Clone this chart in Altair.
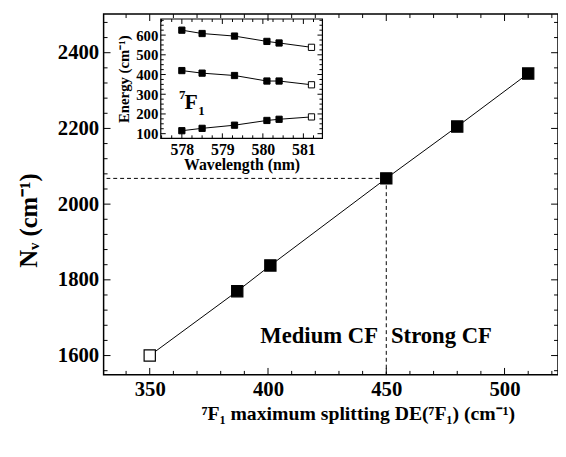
import altair as alt
import pandas as pd

# ---------------- data ----------------
split = [350, 387, 401, 450, 480, 510]
nv = [1600, 1770, 1838, 2068, 2205, 2345]
main_open = [True, False, False, False, False, False]

wl = [578.0, 578.5, 579.3, 580.1, 580.4, 581.2]
e_top = [625, 608, 595, 568, 560, 538]
e_mid = [420, 407, 395, 367, 367, 348]
e_low = [115, 127, 143, 167, 173, 185]
inset_open = [False, False, False, False, False, True]

x_major = [350, 400, 450, 500]
x_minor = [340, 360, 370, 380, 390, 410, 420, 430, 440, 460, 470, 480, 490, 510, 520]
y_major = [1600, 1800, 2000, 2200, 2400]
y_minor = [1560, 1640, 1680, 1720, 1760, 1840, 1880, 1920, 1960, 2040, 2080, 2120,
           2160, 2240, 2280, 2320, 2360, 2440, 2480]
ix_major = [578, 579, 580, 581]
ix_minor = [577.5, 577.75, 578.25, 578.5, 578.75, 579.25, 579.5, 579.75, 580.25,
            580.5, 580.75, 581.25]
iy_major = [100, 200, 300, 400, 500, 600]
iy_minor = [125, 150, 175, 225, 250, 275, 325, 350, 375, 425, 450, 475, 525, 550,
            575, 625, 650, 675]

cut_x = [450]
cut_y = [2068]
ann_text = ["Medium CF", "Strong CF"]
ann_x = [446.5, 452.0]
ann_y = [1632, 1632]

# ---------------- layout ----------------
W, H = 461, 366
FONT = "Liberation Serif"
XD = [330.5, 522.6]
YD = [1549, 2502]
IXD = [577.48, 581.47]
IYD = [76.5, 681.5]
IL, IR, IT, IB = 58, 222, 5, 126

xs = alt.Scale(domain=XD, nice=False, zero=False)
ys = alt.Scale(domain=YD, nice=False, zero=False)
ixs = alt.Scale(domain=IXD, range=[IL, IR], nice=False, zero=False)
iys = alt.Scale(domain=IYD, range=[IB, IT], nice=False, zero=False)

main_df = pd.DataFrame({"x": split, "y": nv, "open": main_open})
ser = []
for name, vals in [("top", e_top), ("mid", e_mid), ("low", e_low)]:
    for w, v, o in zip(wl, vals, inset_open):
        ser.append({"wl": w, "e": v, "s": name, "open": o})
inset_df = pd.DataFrame(ser)
one = pd.DataFrame({"a": [0]})

layers = []

# inset frame
layers.append(alt.Chart(one).mark_rect(fill="white", stroke="black", strokeWidth=1.2).encode(
    x=alt.value(IL), x2=alt.value(IR), y=alt.value(IT), y2=alt.value(IB)))

# dashed guide lines
cut_df = pd.DataFrame({"x": cut_x, "y": cut_y})
layers.append(alt.Chart(cut_df).mark_rule(color="black", strokeDash=[4, 3], strokeWidth=1).encode(
    x=alt.X("x:Q", scale=xs, axis=None), x2=alt.value(3),
    y=alt.Y("y:Q", scale=ys, axis=None)))
layers.append(alt.Chart(cut_df).mark_rule(color="black", strokeDash=[4, 3], strokeWidth=1).encode(
    x=alt.X("x:Q", scale=xs, axis=None),
    y=alt.Y("y:Q", scale=ys, axis=None), y2=alt.value(H)))

# main line with axes
layers.append(alt.Chart(main_df).mark_line(color="black", strokeWidth=1).encode(
    x=alt.X("x:Q", scale=xs, axis=alt.Axis(
        values=x_major, format="d", ticks=False, domain=False, grid=False,
        labelFont=FONT, labelFontSize=21, labelFontWeight="bold", labelColor="black",
        labelPadding=4,
        title="\u2077F\u2081 maximum splitting DE(\u2077F\u2081) (cm\u207b\u00b9)",
        titleFont=FONT, titleFontSize=20, titleFontWeight="bold", titleColor="black",
        titleX=258, titleY=45, titleBaseline="alphabetic", titleAlign="center")),
    y=alt.Y("y:Q", scale=ys, axis=alt.Axis(
        values=y_major, format="d", ticks=False, domain=False, grid=False,
        labelFont=FONT, labelFontSize=21, labelFontWeight="bold", labelColor="black",
        labelPadding=5,
        title="N\u1d65 (cm\u207b\u00b9)",
        titleFont=FONT, titleFontSize=25, titleFontWeight="bold", titleColor="black",
        titleX=-68, titleY=209, titleAngle=-90, titleBaseline="alphabetic",
        titleAlign="center")),
    order="x:Q"))

# main points
layers.append(alt.Chart(main_df).mark_point(shape="square", size=130, strokeWidth=1.2,
                                            opacity=1).encode(
    x=alt.X("x:Q", scale=xs, axis=None),
    y=alt.Y("y:Q", scale=ys, axis=None),
    fill=alt.condition("datum.open", alt.value("white"), alt.value("black")),
    stroke=alt.value("black")))

# main ticks (inward, mirrored)
def xt(vals, y0, y1, scale):
    return alt.Chart(pd.DataFrame({"v": vals})).mark_rule(color="black", strokeWidth=1).encode(
        x=alt.X("v:Q", scale=scale, axis=None), y=alt.value(y0), y2=alt.value(y1))

def yt(vals, x0, x1, scale):
    return alt.Chart(pd.DataFrame({"v": vals})).mark_rule(color="black", strokeWidth=1).encode(
        y=alt.Y("v:Q", scale=scale, axis=None), x=alt.value(x0), x2=alt.value(x1))

layers += [
    xt(x_major, H, H - 7, xs), xt(x_minor, H, H - 4, xs),
    xt(x_major, 0, 7, xs), xt(x_minor, 0, 4, xs),
    yt(y_major, 0, 7, ys), yt(y_minor, 0, 4, ys),
    yt(y_major, W, W - 7, ys), yt(y_minor, W, W - 4, ys),
]

# annotation text
for t, x, y, al in zip(ann_text, ann_x, ann_y, ["right", "left"]):
    layers.append(alt.Chart(pd.DataFrame({"t": [t], "x": [x], "y": [y]})).mark_text(
        font=FONT, fontSize=23, fontWeight="bold", align=al, baseline="alphabetic",
        color="black").encode(
        x=alt.X("x:Q", scale=xs, axis=None), y=alt.Y("y:Q", scale=ys, axis=None), text="t:N"))

# inset lines with inset axes
layers.append(alt.Chart(inset_df).mark_line(color="black", strokeWidth=1).encode(
    x=alt.X("wl:Q", scale=ixs, axis=alt.Axis(
        orient="bottom", offset=-(H - IB), values=ix_major, format="d", ticks=False,
        domain=False, grid=False, labelFont=FONT, labelFontSize=16, labelFontWeight="bold",
        labelColor="black", labelPadding=3,
        title="Wavelength (nm)", titleFont=FONT, titleFontSize=16, titleFontWeight="bold",
        titleColor="black", titlePadding=0)),
    y=alt.Y("e:Q", scale=iys, axis=alt.Axis(
        orient="left", offset=-IL, values=iy_major, format="d", ticks=False, domain=False,
        grid=False, labelFont=FONT, labelFontSize=15, labelFontWeight="bold",
        labelColor="black", labelPadding=3,
        title="Energy (cm\u207b\u00b9)", titleFont=FONT, titleFontSize=15,
        titleFontWeight="bold", titleColor="black", titlePadding=4)),
    detail="s:N", order="wl:Q"))

layers.append(alt.Chart(inset_df).mark_point(shape="square", size=40, strokeWidth=1,
                                             opacity=1).encode(
    x=alt.X("wl:Q", scale=ixs, axis=None),
    y=alt.Y("e:Q", scale=iys, axis=None),
    fill=alt.condition("datum.open", alt.value("white"), alt.value("black")),
    stroke=alt.value("black")))

layers += [
    xt(ix_major, IB, IB - 5, ixs), xt(ix_minor, IB, IB - 3, ixs),
    xt(ix_major, IT, IT + 5, ixs), xt(ix_minor, IT, IT + 3, ixs),
    yt(iy_major, IL, IL + 5, iys), yt(iy_minor, IL, IL + 3, iys),
    yt(iy_major, IR, IR - 5, iys), yt(iy_minor, IR, IR - 3, iys),
]

# 7F1 label inside inset
for t, x, y, sz, al in [("7", 83, 86, 13, "right"), ("F", 82, 96, 22, "left"),
                        ("1", 96, 102, 13, "left")]:
    layers.append(alt.Chart(one).mark_text(
        text=t, font=FONT, fontSize=sz, fontWeight="bold", align=al,
        baseline="alphabetic", color="black").encode(x=alt.value(x), y=alt.value(y)))

chart = alt.layer(*layers).resolve_scale(x="independent", y="independent").properties(
    width=W, height=H, autosize=alt.AutoSizeParams(type="none"),
    padding={"left": 97, "top": 3, "right": 0, "bottom": 70},
    background="white",
).configure_view(stroke="black", strokeWidth=1.5)

chart.save("out.html", embed_options={"renderer": "svg", "actions": False})
